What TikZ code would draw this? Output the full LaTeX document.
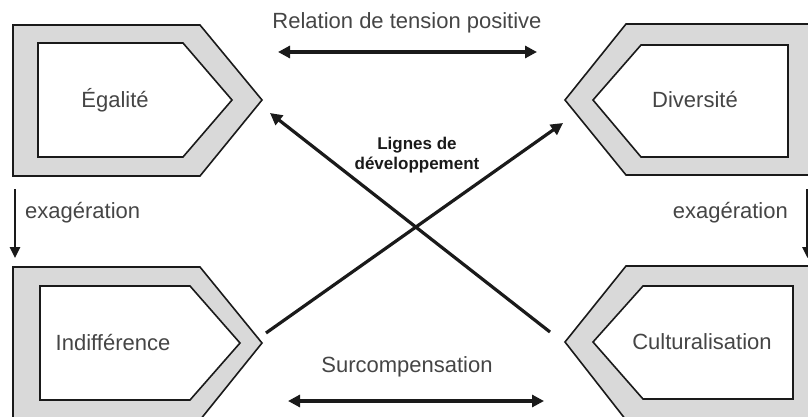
\documentclass[tikz,border=0pt]{standalone}
\usepackage{fontspec}
\setmainfont{Liberation Sans}
\usetikzlibrary{arrows.meta}
\definecolor{band}{HTML}{D9D9D9}
\definecolor{txt}{HTML}{454545}
\definecolor{ink}{HTML}{1A1A1A}
\tikzset{
  outer/.style={draw=ink, line width=1.6pt, fill=band, line join=miter},
  inner/.style={draw=ink, line width=1.6pt, fill=white, line join=miter},
  lbl/.style={text=txt, font=\fontsize{22}{26}\selectfont, inner sep=0pt},
  dev/.style={text=ink, font=\fontsize{17}{20}\selectfont\bfseries, align=center, inner sep=0pt},
  arr/.style={draw=ink, line width=3.2pt, -{Triangle[length=12pt,width=12pt]}},
  darr/.style={draw=ink, line width=3.4pt, {Triangle[length=12pt,width=12pt]}-{Triangle[length=12pt,width=12pt]}},
  varr/.style={draw=ink, line width=2.5pt, -{Triangle[length=11pt,width=10pt]}}
}
\begin{document}
\begin{tikzpicture}[x=1pt,y=-1pt]
\useasboundingbox (0,0) rectangle (808,417);
% Egalite
\draw[outer] (13,25) -- (200,25) -- (262,100) -- (200,176) -- (13,176) -- cycle;
\draw[inner] (38,43) -- (183,43) -- (232,100) -- (183,157) -- (38,157) -- cycle;
\node[lbl] (ega) at (115,100) {Égalité};
% Diversite
\draw[outer] (565,100) -- (626,24) -- (815,24) -- (815,175) -- (626,175) -- cycle;
\draw[inner] (593,100) -- (641,45) -- (788,45) -- (788,157) -- (641,157) -- cycle;
\node[lbl] (div) at (695,100) {Diversité};
% Indifference
\draw[outer] (13,267) -- (200,267) -- (262,343) -- (200,420) -- (13,420) -- cycle;
\draw[inner] (40,286) -- (190,286) -- (240,343) -- (190,400) -- (40,400) -- cycle;
\node[lbl] (ind) at (113,343) {Indifférence};
% Culturalisation
\draw[outer] (565,342) -- (626,266) -- (815,266) -- (815,420) -- (626,420) -- cycle;
\draw[inner] (593,342) -- (643,286) -- (793,286) -- (793,399) -- (643,399) -- cycle;
\node[lbl] (cul) at (702,342) {Culturalisation};
% top relation
\node[lbl] (rel) at (407,23) {Relation de tension positive};
\coordinate (relL) at (278,52);
\coordinate (relR) at (537,52);
\draw[darr] (relL) -- (relR);
% bottom
\node[lbl] (sur) at (407,367) {Surcompensation};
\coordinate (surL) at (288,401);
\coordinate (surR) at (544,401);
\draw[darr] (surL) -- (surR);
% exaggeration
\node[lbl, anchor=west] (exL) at (25,213) {exagération};
\coordinate (exL1) at (15,189);
\coordinate (exL2) at (15,258);
\draw[varr] (exL1) -- (exL2);
\node[lbl, anchor=east] (exR) at (788,213) {exagération};
\coordinate (exR1) at (807.5,189);
\coordinate (exR2) at (807.5,258);
\draw[varr] (exR1) -- (exR2);
% development lines
\node[dev] (lig) at (417,155) {Lignes de\\développement};
\coordinate (d1s) at (550,332);
\coordinate (d1e) at (270,113);
\coordinate (d2s) at (266,333);
\coordinate (d2e) at (563,123);
\draw[arr] (d1s) -- (d1e);
\draw[arr] (d2s) -- (d2e);
\end{tikzpicture}
\end{document}
